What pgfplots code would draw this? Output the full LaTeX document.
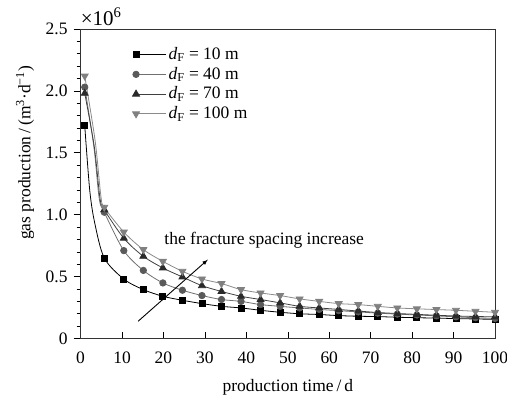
\documentclass[border=0pt]{standalone}
\usepackage{fontspec}
\setmainfont{Liberation Serif}
\usepackage{pgfplots}
\pgfplotsset{compat=1.18}
\definecolor{c40}{HTML}{5A5A5A}
\definecolor{c40l}{HTML}{707070}
\definecolor{c70}{HTML}{2A2A2A}
\definecolor{c70l}{HTML}{404040}
\definecolor{c100}{HTML}{808080}
\definecolor{c100l}{HTML}{8A8A8A}
\begin{document}
\fontsize{17.5}{21}\selectfont
\begin{tikzpicture}
\begin{axis}[
  scale only axis,
  clip=false,
  width=415pt, height=310pt,
  xmin=0, xmax=100, ymin=0, ymax=2.5,
  xtick={0,10,...,100},
  ytick={0,0.5,1,1.5,2,2.5},
  yticklabels={0,0.5,1.0,1.5,2.0,2.5},
  minor y tick num=4,
  tick pos=left,
  xtick align=inside,
  ytick align=outside,
  major tick length=7pt,
  minor tick length=4pt,
  every tick/.style={black, line width=0.6pt},
  axis line style={line width=0.9pt, black!80},
  /pgf/number format/assume math mode=true,
  tick label style={font=\fontsize{17.5}{21}\selectfont},
  xticklabel style={yshift=-7pt},
  label style={font=\fontsize{17.5}{21}\selectfont},
  xlabel={production time\,/\,d},
  ylabel={gas production\,/\,(m\textsuperscript{3}·d\textsuperscript{−1})},
  ylabel style={at={(axis description cs:-0.134,0.6)}, anchor=center},
  xlabel style={at={(axis description cs:0.5,-0.158)}, anchor=center},
  legend style={draw=none, fill=none, at={(axis description cs:0.125,0.948)}, anchor=north west,
    font=\fontsize{17.5}{21}\selectfont, row sep=1pt, inner sep=0pt},
  legend cell align=left,
  legend image code/.code={\draw[mark repeat=2,mark phase=2,#1] plot coordinates {(0cm,0cm)(0.53cm,0cm)(1.06cm,0cm)};},
]
\addplot[black, line width=0.8pt, smooth, mark=square*, mark size=3pt, mark options={fill=black},
  mark indices={1,4,5,6,7,8,9,10,11,12,13,14,15,16,17,18,19,20,21,22,23,24}] coordinates {
(1,1.72)(2.2,1.2)(3.4,0.935)(5.714,0.65)(10.429,0.48)(15.143,0.395)(19.857,0.341)(24.571,0.309)(29.286,0.282)(34,0.26)
(38.714,0.247)(43.429,0.228)(48.143,0.212)(52.857,0.20)(57.571,0.194)(62.286,0.185)(67,0.18)
(71.714,0.177)(76.429,0.172)(81.143,0.168)(85.857,0.165)(90.571,0.161)(95.286,0.158)(100,0.155)};
\addlegendentry{\textit{d}\textsubscript{F} = 10 m}
\addplot[c40l, line width=0.8pt, smooth, mark=*, mark size=3.2pt, mark options={fill=c40, draw=c40},
  mark indices={1,4,5,6,7,8,9,10,11,12,13,14,15,16,17,18,19,20,21,22,23,24}] coordinates {
(1,2.03)(3.2,1.55)(4.5,1.13)(5.714,1.02)(10.429,0.71)(15.143,0.55)(19.857,0.449)(24.571,0.39)(29.286,0.347)(34,0.315)
(38.714,0.30)(43.429,0.274)(48.143,0.26)(52.857,0.247)(57.571,0.235)(62.286,0.225)(67,0.215)
(71.714,0.205)(76.429,0.197)(81.143,0.19)(85.857,0.183)(90.571,0.175)(95.286,0.168)(100,0.162)};
\addlegendentry{\textit{d}\textsubscript{F} = 40 m}
\addplot[c70l, line width=0.8pt, smooth, mark=triangle*, mark size=4pt, mark options={fill=c70, draw=c70},
  mark indices={1,4,5,6,7,8,9,10,11,12,13,14,15,16,17,18,19,20,21,22,23,24}] coordinates {
(1,1.98)(3.3,1.55)(4.7,1.13)(5.714,1.04)(10.429,0.81)(15.143,0.664)(19.857,0.57)(24.571,0.497)(29.286,0.427)(34,0.38)
(38.714,0.341)(43.429,0.315)(48.143,0.288)(52.857,0.26)(57.571,0.247)(62.286,0.235)(67,0.222)
(71.714,0.21)(76.429,0.202)(81.143,0.195)(85.857,0.188)(90.571,0.182)(95.286,0.178)(100,0.175)};
\addlegendentry{\textit{d}\textsubscript{F} = 70 m}
\addplot[c100l, line width=0.8pt, smooth, mark=triangle*, mark size=4pt, mark options={fill=c100, draw=c100, rotate=180},
  mark indices={1,4,5,6,7,8,9,10,11,12,13,14,15,16,17,18,19,20,21,22,23,24}] coordinates {
(1,2.12)(3.5,1.6)(4.9,1.15)(5.714,1.06)(10.429,0.86)(15.143,0.718)(19.857,0.623)(24.571,0.543)(29.286,0.481)(34,0.444)
(38.714,0.395)(43.429,0.368)(48.143,0.347)(52.857,0.32)(57.571,0.30)(62.286,0.282)(67,0.274)
(71.714,0.26)(76.429,0.247)(81.143,0.24)(85.857,0.234)(90.571,0.228)(95.286,0.22)(100,0.212)};
\addlegendentry{\textit{d}\textsubscript{F} = 100 m}
\draw[-latex, line width=0.9pt] (axis cs:13.9,0.14) -- (axis cs:30.7,0.637);
\node[font=\fontsize{17.5}{21}\selectfont] at (axis cs:44.3,0.79) {the fracture spacing increase};
\node[anchor=south west, inner sep=0pt, font=\fontsize{21}{24}\selectfont] at (rel axis cs:0,1.01) {×10\textsuperscript{6}};
\end{axis}
\pgfresetboundingbox
\useasboundingbox ([shift={(-80.7pt,-64pt)}]current axis.south west) rectangle ([shift={(12pt,29pt)}]current axis.north east);
\end{tikzpicture}
\end{document}
